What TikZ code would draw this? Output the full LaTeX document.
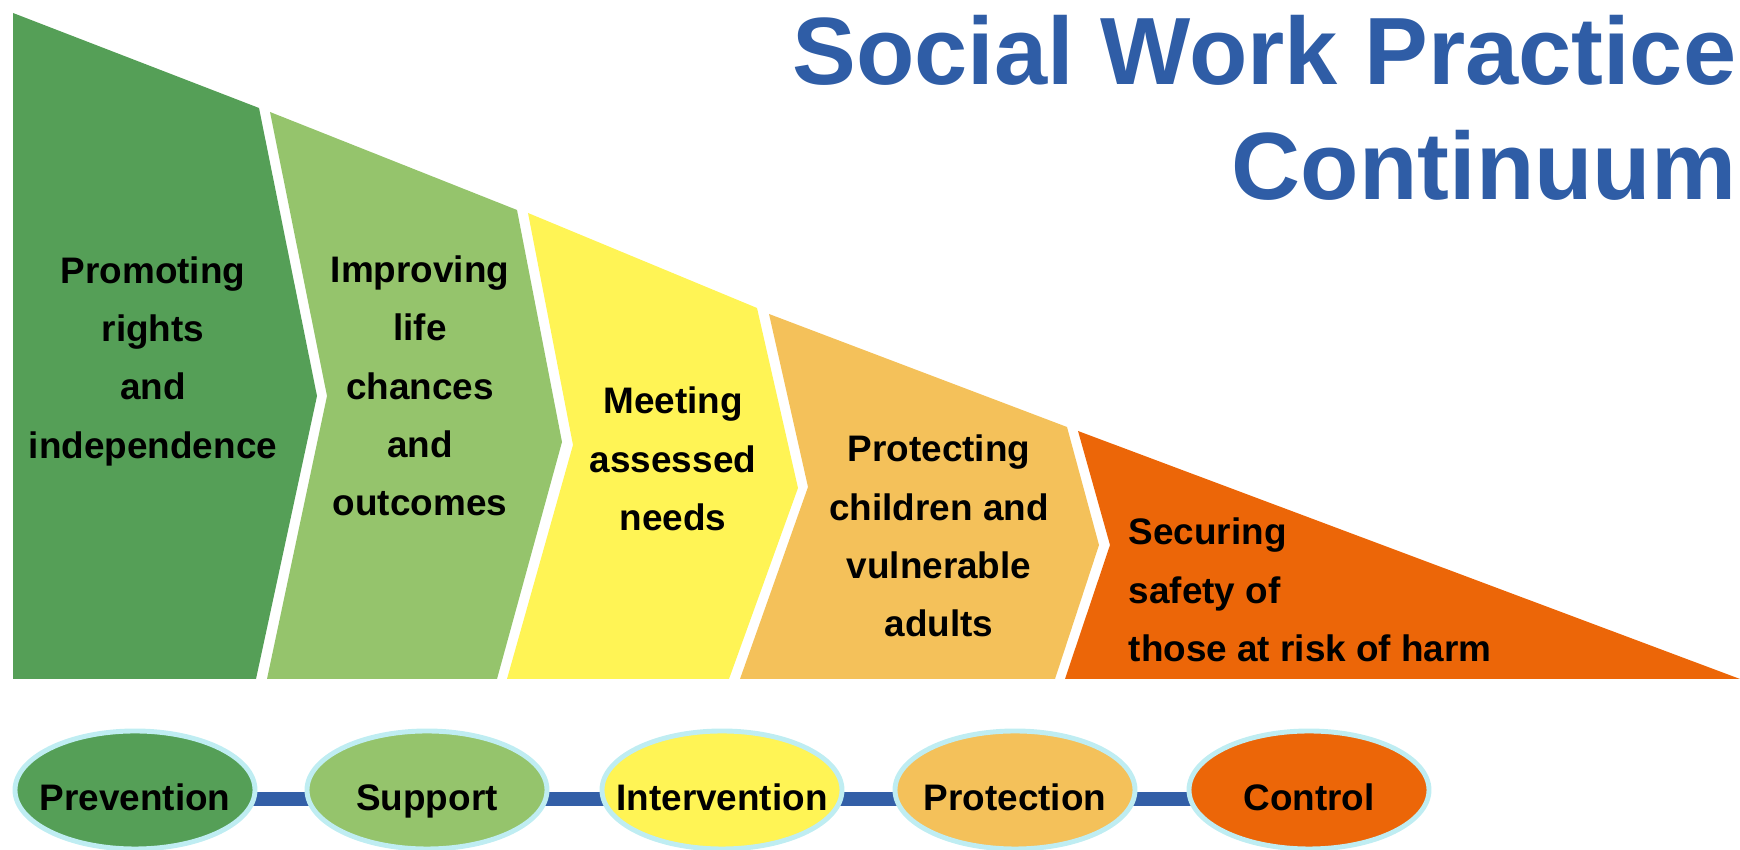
\documentclass[tikz,border=0pt]{standalone}
\usepackage{fontspec}
\setmainfont{Liberation Sans}
\usetikzlibrary{shapes.geometric,backgrounds}
\definecolor{darkgreen}{RGB}{85,159,87}
\definecolor{lightgreen}{RGB}{149,196,108}
\definecolor{sunyellow}{RGB}{255,244,85}
\definecolor{paleorange}{RGB}{244,193,90}
\definecolor{deeporange}{RGB}{236,102,8}
\definecolor{titleblue}{RGB}{47,93,166}
\definecolor{barblue}{RGB}{51,95,167}
\definecolor{ringblue}{RGB}{191,237,242}
\begin{document}
\begin{tikzpicture}[
    stagetext/.style={font=\fontsize{10.5pt}{16.6pt}\selectfont\bfseries, align=center, inner sep=0pt},
    bubble/.style={ellipse, draw=ringblue, line width=1.4pt, minimum width=2.4cm, minimum height=1.18cm,
        inner sep=0pt, font=\fontsize{10.5pt}{12pt}\selectfont\bfseries, text height=0.42cm, text depth=0pt},
    bar/.style={draw=barblue, line width=0.14cm}]
            \useasboundingbox (0cm,0cm) rectangle (17.4cm,-8.5cm);

            % the five stages of the wedge
            \fill[darkgreen] (0.13cm,-0.13cm) -- (2.59cm,-1.08cm) -- (3.17cm,-3.96cm) -- (2.56cm,-6.79cm) -- (0.13cm,-6.79cm) -- cycle;
            \fill[lightgreen] (2.70cm,-1.12cm) -- (5.17cm,-2.10cm) -- (5.62cm,-4.42cm) -- (4.97cm,-6.79cm) -- (2.67cm,-6.79cm) -- (3.27cm,-3.96cm) -- cycle;
            \fill[sunyellow] (5.28cm,-2.13cm) -- (7.57cm,-3.08cm) -- (7.98cm,-4.88cm) -- (7.29cm,-6.79cm) -- (5.07cm,-6.79cm) -- (5.73cm,-4.45cm) -- cycle;
            \fill[paleorange] (7.69cm,-3.14cm) -- (10.67cm,-4.27cm) -- (10.99cm,-5.45cm) -- (10.55cm,-6.79cm) -- (7.40cm,-6.79cm) -- (8.08cm,-4.87cm) -- cycle;
            \fill[deeporange] (10.78cm,-4.31cm) -- (17.40cm,-6.79cm) -- (10.65cm,-6.79cm) -- (11.10cm,-5.45cm) -- cycle;

            % text of the stages
            \node[stagetext] (rights) at (1.53cm,-3.61cm) {Promoting\\rights\\and\\independence};
            \node[stagetext] (chances) at (4.20cm,-3.86cm) {Improving\\life\\chances\\and\\outcomes};
            \node[stagetext] (needs) at (6.73cm,-4.59cm) {Meeting\\assessed\\needs};
            \node[stagetext] (vulnerable) at (9.39cm,-5.36cm) {Protecting\\children and\\vulnerable\\adults};
            \node[stagetext, align=left, anchor=west] (harm) at (11.28cm,-5.90cm) {Securing\\safety of\\those at risk of harm};

            % title
            \node[font=\fontsize{27.2pt}{32.7pt}\selectfont\bfseries, text=titleblue, align=right, anchor=east, inner sep=0pt]
                (title) at (17.37cm,-1.08cm) {Social Work Practice\\Continuum};

            % the row of ovals
            \node[bubble, fill=darkgreen] (prev) at (1.35cm,-7.90cm) {\makebox[0pt]{Prevention}};
            \node[bubble, fill=lightgreen] (supp) at (4.27cm,-7.90cm) {\makebox[0pt]{Support}};
            \node[bubble, fill=sunyellow] (interv) at (7.22cm,-7.90cm) {\makebox[0pt]{Intervention}};
            \node[bubble, fill=paleorange] (prot) at (10.15cm,-7.90cm) {\makebox[0pt]{Protection}};
            \node[bubble, fill=deeporange] (ctrl) at (13.09cm,-7.90cm) {\makebox[0pt]{Control}};

            % bars between the ovals
            \begin{scope}[on background layer]
            \draw[bar] ([yshift=-0.09cm]prev.center) -- ([yshift=-0.09cm]supp.center)
                ([yshift=-0.09cm]supp.center) -- ([yshift=-0.09cm]interv.center)
                ([yshift=-0.09cm]interv.center) -- ([yshift=-0.09cm]prot.center)
                ([yshift=-0.09cm]prot.center) -- ([yshift=-0.09cm]ctrl.center);
            \end{scope}
        \end{tikzpicture}
\end{document}
